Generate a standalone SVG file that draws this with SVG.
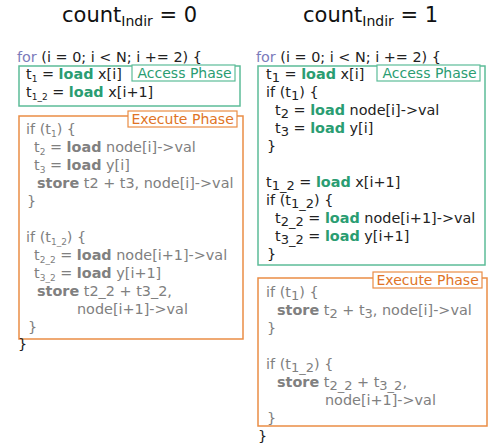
<svg xmlns="http://www.w3.org/2000/svg" width="490" height="445" viewBox="0 0 490 445">
<style>
text{font-family:"DejaVu Sans","Liberation Sans",sans-serif;font-size:14.4px;fill:#222;}
.title{font-size:21px;fill:#111;}
.kw{fill:#7b7bbb;}
.ld{font-weight:bold;fill:#2a9d72;}
.g{fill:#808080;}
.gb{font-weight:bold;fill:#808080;}
.lab-a{fill:#2a9d72;font-size:14px;}
.lab-e{fill:#e07425;font-size:14px;}
.box-a{fill:none;stroke:#5cbc98;stroke-width:1.5;}
.box-e{fill:none;stroke:#ea8d45;stroke-width:1.5;}
.tag-a{fill:#fff;stroke:#5cbc98;stroke-width:1.2;}
.tag-e{fill:#fff;stroke:#ea8d45;stroke-width:1.2;}
.s{font-size:9px;}
.S{font-size:13px;}
</style>

<g id="title-left"><text class="title" x="62" y="22">count<tspan font-size="14" dy="4">Indir</tspan><tspan dy="-4"> = 0</tspan></text></g>
<g id="title-right"><text class="title" x="303" y="22">count<tspan font-size="14" dy="4">Indir</tspan><tspan dy="-4"> = 1</tspan></text></g>

<g id="left">
  <text x="17" y="62"><tspan class="kw">for</tspan> (i = 0; i &lt; N; i += 2) {</text>
  <g id="left-access">
    <rect class="box-a" x="19" y="66" width="221" height="40"/>
    <text x="26" y="79">t<tspan class="s" dy="3">1</tspan><tspan dy="-3"> = </tspan><tspan class="ld">load</tspan> x[i]</text>
    <text x="26" y="97">t<tspan class="s" dy="3">1_2</tspan><tspan dy="-3"> = </tspan><tspan class="ld">load</tspan> x[i+1]</text>
    <rect class="tag-a" x="132" y="65" width="103" height="16"/>
    <text class="lab-a" x="137.5" y="78">Access Phase</text>
  </g>
  <g id="left-execute">
    <rect class="box-e" x="19" y="116" width="224" height="223"/>
    <rect class="tag-e" x="128" y="111" width="109" height="16"/>
    <text class="lab-e" x="131.5" y="124">Execute Phase</text>
    <text class="g" x="26" y="134">if (t<tspan class="s" dy="3">1</tspan><tspan dy="-3">) {</tspan></text>
    <text class="g" x="34" y="152">t<tspan class="s" dy="3">2</tspan><tspan dy="-3"> = </tspan><tspan class="gb">load</tspan> node[i]-&gt;val</text>
    <text class="g" x="34" y="170">t<tspan class="s" dy="3">3</tspan><tspan dy="-3"> = </tspan><tspan class="gb">load</tspan> y[i]</text>
    <text class="g" x="37" y="188"><tspan class="gb">store</tspan> t2 + t3, node[i]-&gt;val</text>
    <text class="g" x="27" y="206">}</text>
    <text class="g" x="26" y="242">if (t<tspan class="s" dy="3">1_2</tspan><tspan dy="-3">) {</tspan></text>
    <text class="g" x="34" y="260">t<tspan class="s" dy="3">2_2</tspan><tspan dy="-3"> = </tspan><tspan class="gb">load</tspan> node[i+1]-&gt;val</text>
    <text class="g" x="34" y="278">t<tspan class="s" dy="3">3_2</tspan><tspan dy="-3"> = </tspan><tspan class="gb">load</tspan> y[i+1]</text>
    <text class="g" x="37" y="296"><tspan class="gb">store</tspan> t2_2 + t3_2,</text>
    <text class="g" x="77" y="314">node[i+1]-&gt;val</text>
    <text class="g" x="28" y="332">}</text>
  </g>
  <text x="18" y="349">}</text>
</g>

<g id="right">
  <text x="256" y="62"><tspan class="kw">for</tspan> (i = 0; i &lt; N; i += 2) {</text>
  <g id="right-access">
    <rect class="box-a" x="258" y="66" width="227" height="199"/>
    <text x="266" y="79">t<tspan class="S" dy="3">1</tspan><tspan dy="-3"> = </tspan><tspan class="ld">load</tspan> x[i]</text>
    <text x="266" y="97">if (t<tspan class="S" dy="3">1</tspan><tspan dy="-3">) {</tspan></text>
    <text x="275" y="115">t<tspan class="S" dy="3">2</tspan><tspan dy="-3"> = </tspan><tspan class="ld">load</tspan> node[i]-&gt;val</text>
    <text x="275" y="133">t<tspan class="S" dy="3">3</tspan><tspan dy="-3"> = </tspan><tspan class="ld">load</tspan> y[i]</text>
    <text x="267" y="151">}</text>
    <text x="266" y="187">t<tspan class="S" dy="3">1_2</tspan><tspan dy="-3"> = </tspan><tspan class="ld">load</tspan> x[i+1]</text>
    <text x="266" y="205">if (t<tspan class="S" dy="3">1_2</tspan><tspan dy="-3">) {</tspan></text>
    <text x="275" y="223">t<tspan class="S" dy="3">2_2</tspan><tspan dy="-3"> = </tspan><tspan class="ld">load</tspan> node[i+1]-&gt;val</text>
    <text x="275" y="241">t<tspan class="S" dy="3">3_2</tspan><tspan dy="-3"> = </tspan><tspan class="ld">load</tspan> y[i+1]</text>
    <text x="267" y="259">}</text>
    <rect class="tag-a" x="377" y="65" width="103" height="16"/>
    <text class="lab-a" x="382.5" y="78">Access Phase</text>
  </g>
  <g id="right-execute">
    <rect class="box-e" x="258" y="278" width="229" height="148"/>
    <rect class="tag-e" x="373" y="272" width="109" height="16"/>
    <text class="lab-e" x="376.5" y="285">Execute Phase</text>
    <text class="g" x="266" y="297">if (t<tspan class="S" dy="3">1</tspan><tspan dy="-3">) {</tspan></text>
    <text class="g" x="277" y="315"><tspan class="gb">store</tspan> t<tspan class="S" dy="3">2</tspan><tspan dy="-3"> + t</tspan><tspan class="S" dy="3">3</tspan><tspan dy="-3">, node[i]-&gt;val</tspan></text>
    <text class="g" x="267" y="333">}</text>
    <text class="g" x="266" y="369">if (t<tspan class="S" dy="3">1_2</tspan><tspan dy="-3">) {</tspan></text>
    <text class="g" x="277" y="387"><tspan class="gb">store</tspan> t<tspan class="S" dy="3">2_2</tspan><tspan dy="-3"> + t</tspan><tspan class="S" dy="3">3_2</tspan><tspan dy="-3">,</tspan></text>
    <text class="g" x="325" y="405">node[i+1]-&gt;val</text>
    <text class="g" x="267" y="423">}</text>
  </g>
  <text x="258" y="441">}</text>
</g>
</svg>
